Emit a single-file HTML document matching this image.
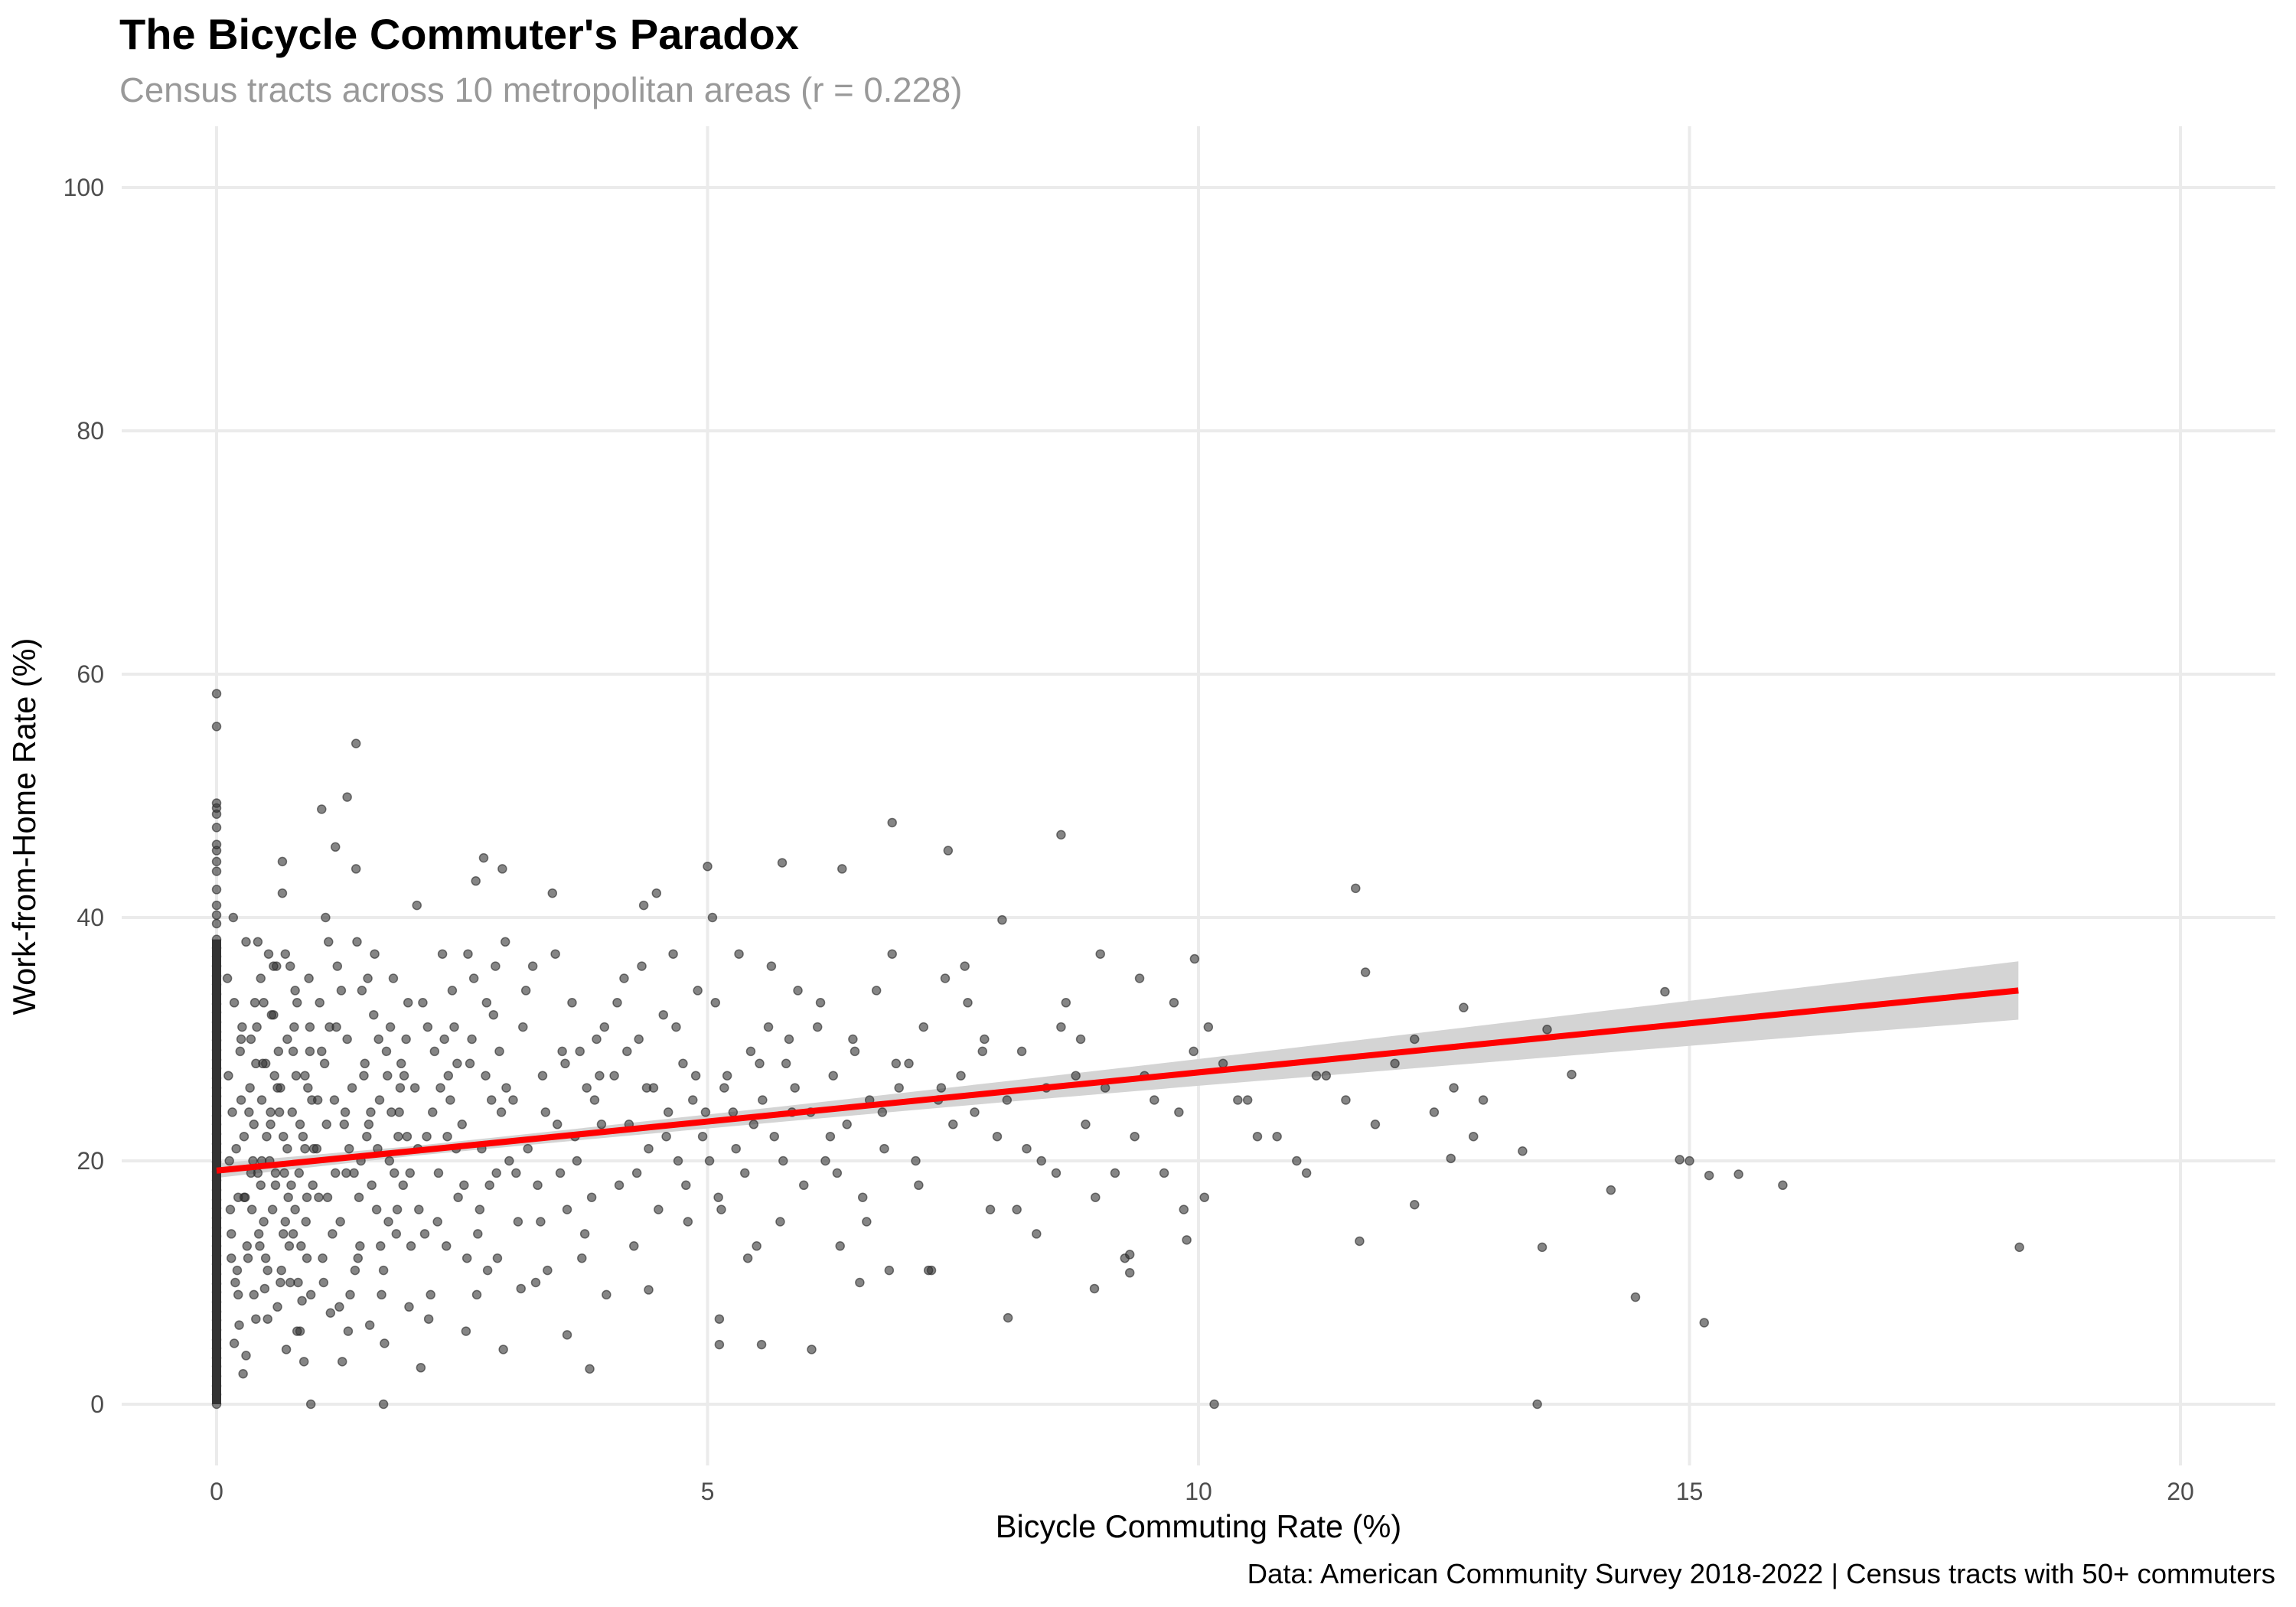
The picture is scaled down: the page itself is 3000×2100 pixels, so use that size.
<!DOCTYPE html>
<html><head><meta charset="utf-8"><style>
html,body{margin:0;padding:0;background:#fff;}
svg{display:block;font-family:"Liberation Sans",Arial,sans-serif;}
</style></head><body>
<svg id="chart" width="3000" height="2100" viewBox="0 0 3000 2100" xmlns="http://www.w3.org/2000/svg">
<rect width="3000" height="2100" fill="#fff"/>
<text x="156" y="64" font-size="56" font-weight="bold" fill="#000">The Bicycle Commuter's Paradox</text>
<text x="156" y="133" font-size="45.5" fill="#999">Census tracts across 10 metropolitan areas (r = 0.228)</text>
<g id="grid"></g>
<g id="band"></g>
<g id="points"></g>
<g id="fit"></g>
<g id="ticks"></g>
<text x="1566" y="2009" font-size="41.5" text-anchor="middle" fill="#000">Bicycle Commuting Rate (%)</text>
<text transform="translate(46,1080) rotate(-90)" font-size="41.5" text-anchor="middle" fill="#000">Work-from-Home Rate (%)</text>
<text x="2973" y="2069" font-size="36.5" text-anchor="end" fill="#000">Data: American Community Survey 2018-2022 | Census tracts with 50+ commuters</text>
</svg>
<script>
const xTicks = [0,5,10,15,20];
const yTicks = [0,20,40,60,80,100];
const xTickLabels = ["0","5","10","15","20"];
const yTickLabels = ["0","20","40","60","80","100"];
const zeroColumnY = [0,0.8,1.5,2.3,3.1,3.8,4.6,5.3,6.1,6.9,7.6,8.4,9.2,9.9,10.7,11.5,12.2,13,13.8,14.5,15.3,16.1,16.8,17.6,18.4,19.1,19.9,20.7,21.4,22.2,23,23.7,24.5,25.3,26,26.8,27.6,28.3,29.1,29.9,30.6,31.4,32.2,32.9,33.7,34.5,35.2,36,36.8,37.5,38.2,39.5,40.2,41,42.3,43.8,44.6,45.5,46,47.4,48.5,49,49.4,55.7,58.4];
const bikeRate = [
0.12,0.15,0.18,0.2,0.22,0.25,0.28,0.3,0.32,0.35,0.38,0.4,0.42,0.45,0.48,0.5,0.52,0.55,0.58,0.6,
0.62,0.65,0.68,0.7,0.72,0.75,0.78,0.8,0.82,0.85,0.88,0.9,0.92,0.95,0.98,0.14,0.24,0.34,0.44,0.54,
0.64,0.74,0.84,0.94,0.17,0.27,0.37,0.47,0.57,0.67,0.77,0.87,0.97,0.21,0.31,0.41,0.51,0.61,0.71,0.81,
0.91,0.29,0.39,0.49,0.59,0.69,0.79,0.89,0.99,0.33,0.43,0.53,0.63,0.73,0.83,0.93,0.23,0.46,0.56,0.66,
0.13,0.19,0.26,0.36,0.46,0.52,0.58,0.68,0.76,0.86,0.11,0.16,0.3,0.4,0.5,0.6,0.7,0.8,0.9,0.96,
0.22,0.28,0.38,0.48,0.62,0.72,0.82,0.92,0.15,0.35,0.55,0.75,0.95,0.25,0.45,0.65,0.85,0.18,0.42,0.78,
1.02,1.05,1.08,1.1,1.13,1.16,1.2,1.23,1.26,1.3,1.33,1.36,1.4,1.43,1.46,1.5,1.53,1.56,1.6,1.63,
1.66,1.7,1.73,1.76,1.8,1.83,1.86,1.9,1.93,1.96,1.07,1.18,1.28,1.38,1.48,1.58,1.68,1.78,1.88,1.98,
1.11,1.21,1.31,1.41,1.51,1.61,1.71,1.81,1.91,1.15,1.35,1.55,1.75,1.95,1.25,1.45,1.65,1.85,1.03,1.42,
1.04,1.12,1.22,1.32,1.44,1.54,1.64,1.74,1.84,1.94,1.09,1.27,1.47,1.67,1.87,1.14,1.34,1.57,1.77,1.97,
2.02,2.06,2.1,2.14,2.18,2.22,2.26,2.3,2.34,2.38,2.42,2.46,2.5,2.54,2.58,2.62,2.66,2.7,2.74,2.78,
2.82,2.86,2.9,2.94,2.98,2.04,2.16,2.28,2.4,2.52,2.64,2.76,2.88,2.12,2.36,2.6,2.84,2.2,2.44,2.68,
2.92,2.08,2.56,2.8,2.32,2.05,2.25,2.45,2.65,2.85,2.15,2.35,2.55,2.75,2.95,
3.02,3.07,3.12,3.17,3.22,3.27,3.32,3.37,3.42,3.47,3.52,3.57,3.62,3.67,3.72,3.77,3.82,3.87,3.92,3.97,
3.05,3.15,3.25,3.35,3.45,3.55,3.65,3.75,3.85,3.95,3.1,3.3,3.5,3.7,3.9,
4.05,4.1,4.15,4.2,4.25,4.3,4.35,4.4,4.45,4.5,4.55,4.6,4.65,4.7,4.75,4.8,4.85,4.9,4.95,4.08,
4.18,4.28,4.38,4.48,4.58,4.68,4.78,4.88,4.98,4.33,
5.02,5.08,5.14,5.2,5.26,5.32,5.38,5.44,5.5,5.56,5.62,5.68,5.74,5.8,5.86,5.92,5.98,5.05,5.17,5.29,
5.41,5.53,5.65,5.77,5.89,5.11,5.47,5.83,
6.05,6.12,6.2,6.28,6.35,6.42,6.5,6.58,6.65,6.72,6.8,6.88,6.95,6.15,6.32,6.48,6.62,6.78,6.92,6.25,6.55,6.85,
7.05,7.12,7.2,7.28,7.35,7.42,7.5,7.58,7.65,7.72,7.8,7.88,7.95,7.15,7.38,7.62,7.82,7.25,
8.05,8.15,8.25,8.35,8.45,8.55,8.65,8.75,8.85,8.95,9.05,9.15,9.25,9.35,9.45,9.55,9.65,9.75,9.85,9.95,
8.2,8.6,9.0,9.4,9.8,8.4,8.8,
10.1,10.25,10.4,10.6,10.8,11.0,11.2,11.3,11.5,11.8,12.0,12.2,12.4,12.6,12.9,11.1,10.5,12.8,
1.42,1.33,1.07,6.88,8.6,7.45,1.21,2.72,5.76,6.37,5.0,0.67,2.91,11.6,8.0,9.96,14.75,12.7,13.55,13.8,
11.7,14.2,14.9,15.0,15.2,15.5,15.95,18.36,14.45,15.15,13.5,13.45,10.16,1.7,0.96,8.06,6.06,5.55,5.12,5.12,
3.8,3.57,4.4,8.94,9.3,9.3,11.64,9.88,10.06,13.3,12.57,12.2
];
const wfhRate = [
27,14,33,21,9,25,17,38,12,30,23,7,19,35,15,28,11,24,32,18,
8,26,14,37,21,10,29,16,33,6,22,27,12,31,18,16,29,26,13,20,
24,13,19,35,40,2.5,20,28,16,42,24,8.5,25,11,13,31,22,36,4.5,27,
15,17,33,9.5,27,19,31,3.5,21,24,14,37,29,17,10,26,6.5,20,32,11,
20,10,31,16,25,7,36,22,18,13,35,24,4,28,12,19,15,34,21,9,
17,22,9,33,26,30,6,17,12,19,23,36,29,30,18,10,23,5,38,14,
21,33,12,28,17,7.5,25,36,15,23,30,9,19,38,13,27,22,6.5,32,16,
25,11,29,20,35,14,24,18,30,8,29,14,3.5,26,34,18,9,24,28,13,
40,19,24,11,28,37,5,19,27,31,21,23,15,33,8,17,30,22,25,44,
17,23,31,19,12,35,21,27,16,22,10,34,20,13,26,38,6,24,31,19,
26,16,33,22,9,29,19,37,13,25,31,17,23,6,28,35,14,21,27,18,
32,12,24,38,20,41,7,26,34,18,43,11,29,14,27,30,36,24,21,16,
4.5,3,37,25,30,21,15,28,9,19,31,22,12,33,26,
25,15,31,21,36,18,27,11,42,23,29,16,33,20,12,26,17,30,23,9,
19,34,10,24,37,28,22,14,25,31,9.5,15,19,29,27,
27,18,35,23,13,30,41,21,26,16,32,24,37,20,28,15,25,34,22,33,
29,19,26,42,22,31,18,27,24,36,
20,33,16,27,24,37,19,29,13,25,31,22,15,28,24,34,18,40,26,21,
12,28,36,20,26,17,23,30,
24,31,20,27,13,23,29,17,25,34,21,37,26,33,19,30,15,24,28,22,10,11,
28,20,31,11,25,35,23,27,33,24,29,16,22,18,26,36,30,11,
25,16,21,14,26,19,33,27,23,17,26,19,12,22,27,25,19,33,16,29,
29,31,37,35,24,20,30,
31,28,25,22,22,20,27,27,25,23,28,30,24,26,25,19,25,22,
54.3,49.9,48.9,47.8,46.8,45.5,45.8,44.9,44.5,44.0,44.2,44.6,44.0,42.4,39.8,36.6,33.9,32.6,30.8,27.1,
35.5,17.6,20.1,20.0,18.8,18.9,18.0,12.9,8.8,6.7,12.9,0,0,0,0,7.1,4.5,4.9,4.9,7.0,
2.9,5.7,9.4,9.5,12.3,10.8,13.4,13.5,17.0,20.8,20.2,16.4
];
const fitX = [0,2,4,6,8,10,12,14,16,18.35];
const fitY = [19.2,20.81,22.43,24.04,25.66,27.27,28.88,30.5,32.11,34.0];
const ciLow = [18.6,20.41,21.93,23.39,24.81,26.17,27.48,28.8,30.11,31.6];
const ciHigh = [19.8,21.21,22.93,24.69,26.51,28.37,30.28,32.2,34.11,36.4];

const NS = "http://www.w3.org/2000/svg";
const X0 = 283, XPX = (2849-283)/20, Y0 = 1835, YPX = (1835-245)/100;
const PL = 159, PR = 2973, PT = 165, PB = 1915;
function sx(v){ return X0 + v*XPX; }
function sy(v){ return Y0 - v*YPX; }
function mk(tag, attrs, parent){ const e = document.createElementNS(NS, tag); for (const k in attrs) e.setAttribute(k, attrs[k]); parent.appendChild(e); return e; }

const grid = document.getElementById('grid');
xTicks.forEach(t => {
  const l = mk('line', {x1:sx(t), x2:sx(t), y1:PT, y2:PB, stroke:'#ebebeb', 'stroke-width':4}, grid);
  
  
});
yTicks.forEach(t => {
  const l = mk('line', {x1:PL, x2:PR, y1:sy(t), y2:sy(t), stroke:'#ebebeb', 'stroke-width':4}, grid);
  
  
});
const ticks = document.getElementById('ticks');
xTicks.forEach((t,i) => {
  const e = mk('text', {x:sx(t), y:1960, 'font-size':32, 'text-anchor':'middle', fill:'#4d4d4d'}, ticks);
  e.textContent = xTickLabels[i];
  
  
});
yTicks.forEach((t,i) => {
  const e = mk('text', {x:136, y:sy(t)+11, 'font-size':32, 'text-anchor':'end', fill:'#4d4d4d'}, ticks);
  e.textContent = yTickLabels[i];
  
  
});

const band = document.getElementById('band');
let d = '';
fitX.forEach((x,i) => { d += (i ? 'L' : 'M') + sx(x) + ',' + sy(ciHigh[i]); });
for (let i = fitX.length-1; i >= 0; i--) d += 'L' + sx(fitX[i]) + ',' + sy(ciLow[i]);
const bp = mk('path', {d:d+'Z', fill:'#d4d4d4'}, band);



const pts = document.getElementById('points');
zeroColumnY.forEach(y => {
  const c = mk('circle', {cx:sx(0), cy:sy(y), r:5.5, fill:'rgba(51,51,51,0.6)', stroke:'rgba(40,40,40,0.6)', 'stroke-width':1.5}, pts);
  
  
});
const col = mk('rect', {x:sx(0)-6, y:sy(38.2), width:12, height:sy(0)-sy(38.2), fill:'#333'}, pts);


bikeRate.forEach((x,i) => {
  const c = mk('circle', {cx:sx(x), cy:sy(wfhRate[i]), r:5.5, fill:'rgba(51,51,51,0.6)', stroke:'rgba(40,40,40,0.6)', 'stroke-width':1.5}, pts);
  
  
});

const fit = document.getElementById('fit');
let ld = '';
fitX.forEach((x,i) => { ld += (i ? 'L' : 'M') + sx(x) + ',' + sy(fitY[i]); });
const lp = mk('path', {d:ld, stroke:'#ff0000', 'stroke-width':8, fill:'none'}, fit);


</script>
</body></html>
